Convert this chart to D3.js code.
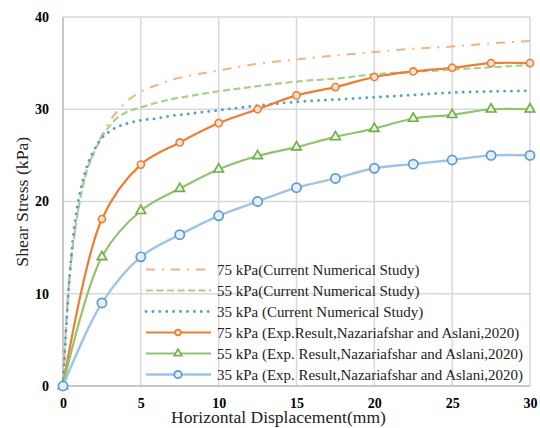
<!DOCTYPE html>
<html><head><meta charset="utf-8">
<script src="https://cdn.jsdelivr.net/npm/d3@7"></script>
<style>body{margin:0;background:#fff}svg{display:block}</style>
</head><body>
<svg id="chart" width="540" height="428"></svg>
<script>
// ---- data ----
const xTicks = [0, 5, 10, 15, 20, 25, 30];
const yTicks = [0, 10, 20, 30, 40];

const numX = [0, 0.25, 0.5, 0.75, 1, 1.5, 2, 2.5, 3, 3.5, 4, 5, 6, 7, 8, 10, 12, 15, 18, 20, 22, 25, 28, 30];
const num75 = [0, 8, 13.3, 16.6, 19.4, 23.3, 25.4, 27.2, 28.7, 29.8, 30.7, 31.9, 32.6, 33.2, 33.6, 34.2, 34.8, 35.4, 35.9, 36.2, 36.5, 36.8, 37.2, 37.4];
const num55 = [0, 8, 13.3, 16.6, 19.3, 23.1, 25.3, 27.0, 28.2, 29.1, 29.6, 30.2, 30.7, 31.1, 31.4, 31.95, 32.4, 33.0, 33.4, 33.8, 34.0, 34.3, 34.6, 34.8];
const num35 = [0, 7.5, 13.5, 17.6, 20.2, 23.6, 25.6, 26.9, 27.6, 28.1, 28.4, 28.8, 29.0, 29.3, 29.5, 29.9, 30.3, 30.8, 31.1, 31.3, 31.5, 31.8, 31.95, 32.0];

const expX = [0, 2.5, 5, 7.5, 10, 12.5, 15, 17.5, 20, 22.5, 25, 27.5, 30];
const exp75 = [0, 18.1, 24.0, 26.4, 28.5, 30.0, 31.5, 32.4, 33.5, 34.1, 34.5, 35.0, 35.0];
const exp55 = [0, 14.0, 19.0, 21.4, 23.5, 24.95, 25.9, 27.0, 27.9, 29.0, 29.4, 30.0, 30.0];
const exp35 = [0, 9.0, 14.0, 16.4, 18.45, 20.0, 21.5, 22.5, 23.6, 24.05, 24.5, 25.0, 25.0];

const legendLabels = [
  "75 kPa(Current Numerical Study)",
  "55 kPa(Current Numerical Study)",
  "35 kPa (Current Numerical Study)",
  "75 kPa (Exp.Result,Nazariafshar and Aslani,2020)",
  "55 kPa (Exp. Result,Nazariafshar and Aslani,2020)",
  "35 kPa (Exp. Result,Nazariafshar and Aslani,2020)"
];

// ---- layout ----
const svg = d3.select("#chart");
const L = 63, R = 530, T = 17, B = 386;
const x = d3.scaleLinear().domain([0, 30]).range([L, R]);
const y = d3.scaleLinear().domain([0, 40]).range([B, T]);
const FAM = "Liberation Serif";
const gridC = "#D9D9D9";

function serif(sel) {
  return sel.attr("font-family", FAM).style("font-family", "'Liberation Serif', 'Times New Roman', serif", "important");
}
function fit(sel, width) {
  const base = 20;
  sel.attr("font-size", base);
  const w = sel.node().getComputedTextLength();
  sel.attr("font-size", base * width / w);
  return sel;
}

// grid
const g = svg.append("g");
g.selectAll(".vg").data(xTicks).join("line")
  .attr("x1", d => x(d)).attr("x2", d => x(d)).attr("y1", T).attr("y2", B)
  .attr("stroke", gridC).attr("stroke-width", 1.5);
g.selectAll(".hg").data(yTicks).join("line")
  .attr("x1", L).attr("x2", R).attr("y1", d => y(d)).attr("y2", d => y(d))
  .attr("stroke", gridC).attr("stroke-width", 1.5);
g.append("line").attr("x1", L).attr("x2", L).attr("y1", T).attr("y2", B).attr("stroke", "#BFBFBF").attr("stroke-width", 1.5);
g.append("line").attr("x1", L).attr("x2", R).attr("y1", B).attr("y2", B).attr("stroke", "#BFBFBF").attr("stroke-width", 1.5);

const xAxis = svg.append("g").attr("transform", `translate(0,${B})`)
  .call(d3.axisBottom(x).tickValues(xTicks).tickSize(0).tickPadding(12));
const yAxis = svg.append("g").attr("transform", `translate(${L},0)`)
  .call(d3.axisLeft(y).tickValues(yTicks).tickSize(0).tickPadding(14));
[xAxis, yAxis].forEach(a => {
  a.select(".domain").remove();
  serif(a).attr("font-size", 14);
  serif(a.selectAll("text")).attr("font-size", 14)
    .attr("font-weight", "bold").attr("fill", "#000");
});

const xt = serif(svg.append("text").attr("x", 278.5).attr("y", 423).attr("text-anchor", "middle"))
  .attr("fill", "#222").text("Horizontal Displacement(mm)");
fit(xt, 215);
const yt = serif(svg.append("text").attr("transform", "translate(28,201.7) rotate(-90)").attr("text-anchor", "middle"))
  .attr("fill", "#222").text("Shear Stress (kPa)");
fit(yt, 130);

const series = [
  {xs: numX, ys: num75, color: "#F4B183", width: 2, dash: "9,7,2,7", cap: "butt", marker: null, curve: d3.curveMonotoneX},
  {xs: numX, ys: num55, color: "#A9D18E", width: 2.2, dash: "7,3.5", cap: "butt", marker: null, curve: d3.curveMonotoneX},
  {xs: numX, ys: num35, color: "#5B9BD5", width: 2.8, dash: "0.1,6.8", cap: "round", marker: null, curve: d3.curveMonotoneX},
  {xs: expX, ys: exp75, color: "#ED7D31", width: 2.2, dash: null, cap: "butt", marker: "circleS", mcolor: "#ED7D31", curve: d3.curveCatmullRom},
  {xs: expX, ys: exp55, color: "#8FC56C", width: 2.2, dash: null, cap: "butt", marker: "tri", mcolor: "#70AD47", curve: d3.curveCatmullRom},
  {xs: expX, ys: exp35, color: "#9DC3E6", width: 2.4, dash: null, cap: "butt", marker: "circleL", mcolor: "#5B9BD5", curve: d3.curveCatmullRom}
];

const plot = svg.append("g");
function drawMarker(sel, type, color, k) {
  if (type === "circleS") {
    sel.append("circle").attr("r", 3.6 * k).attr("fill", "#FBE0CF").attr("stroke", color).attr("stroke-width", 1.6);
  } else if (type === "circleL") {
    sel.append("circle").attr("r", 4.6 * k).attr("fill", "#E4EFF9").attr("stroke", color).attr("stroke-width", 1.7);
  } else if (type === "tri") {
    sel.append("path").attr("d", d3.symbol(d3.symbolTriangle, 40 * k * k)()).attr("fill", "#E6F2DE")
      .attr("stroke", color).attr("stroke-width", 1.6);
  }
}
series.forEach(s => {
  const pts = s.xs.map((xv, i) => [xv, s.ys[i]]);
  const line = d3.line().x(d => x(d[0])).y(d => y(d[1])).curve(s.curve);
  plot.append("path").attr("d", line(pts)).attr("fill", "none")
    .attr("stroke", s.color).attr("stroke-width", s.width)
    .attr("stroke-dasharray", s.dash).attr("stroke-linecap", s.cap);
  if (s.marker) {
    pts.forEach(p => {
      const m = plot.append("g").attr("transform", `translate(${x(p[0])},${y(p[1])})`);
      drawMarker(m, s.marker, s.mcolor, 1);
    });
  }
});

const lgY = d3.scalePoint().domain(d3.range(6)).range([269.5, 374.5]);
const lg = svg.append("g");
let fs = null;
series.forEach((s, i) => {
  const yy = lgY(i);
  lg.append("line").attr("x1", 146).attr("x2", 211).attr("y1", yy).attr("y2", yy)
    .attr("stroke", s.color).attr("stroke-width", s.width)
    .attr("stroke-dasharray", s.dash).attr("stroke-linecap", s.cap);
  if (s.marker) {
    const m = lg.append("g").attr("transform", `translate(178,${yy})`);
    drawMarker(m, s.marker, s.mcolor, 0.8);
  }
  const t = serif(lg.append("text").attr("x", 217).attr("y", yy).attr("dy", "0.35em"))
    .attr("fill", "#222").text(legendLabels[i]);
  if (i === 5) { fit(t, 306); fs = +t.attr("font-size"); }
});
lg.selectAll("text").attr("font-size", fs);
</script>
</body></html>
